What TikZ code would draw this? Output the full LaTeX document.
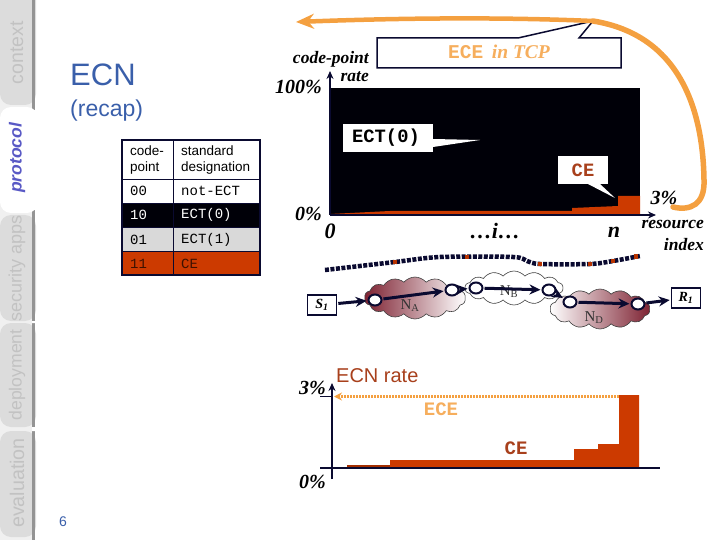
\documentclass[tikz,border=0pt]{standalone}
\usepackage{fontspec}
\setsansfont{Liberation Sans}
\setmonofont{Liberation Mono}
\newfontfamily\figfont{Liberation Serif}
\usetikzlibrary{positioning, arrows.meta, shapes.symbols, shapes.geometric}
\definecolor{navyline}{HTML}{0A0A30}
\definecolor{brickred}{HTML}{CC3A00}
\definecolor{brickdark}{HTML}{A8401C}
\definecolor{echoorange}{HTML}{F4A040}
\definecolor{titleblue}{HTML}{3A5FAA}
\definecolor{tabgray}{HTML}{DCDCDC}
\definecolor{maroon}{HTML}{7E2232}
\tikzset{
  figlabel/.style={font=\figfont\bfseries\itshape, text=black},
  tablabel/.style={text=black!24, rotate=90},
  celltext/.style={font=\sffamily\fontsize{13.5}{16}\selectfont, anchor=west, inner sep=0pt, align=left},
  cellmono/.style={font=\ttfamily\fontsize{14}{14}\selectfont, anchor=west, inner sep=0pt},
  callout/.style={draw=navyline, line width=1.5pt, fill=white},
  thinbubble/.style={fill=white},
  link/.style={-{Stealth[length=11pt,width=10pt]}, draw=navyline, line width=3pt, shorten >=1pt, shorten <=1pt},
  router/.style={ellipse, draw=navyline, fill=white, line width=2pt, inner sep=0pt, minimum width=13pt, minimum height=11pt},
  endbox/.style={draw=navyline, line width=1.6pt, fill=white, minimum width=29pt, minimum height=20pt, inner sep=0pt, font=\figfont\bfseries\itshape\fontsize{14}{14}\selectfont},
  netcloud/.style={cloud, cloud puffs=14, cloud puff arc=100, aspect=2.8, draw=black!75, line width=0.6pt, inner sep=0pt},
  netname/.style={font=\figfont\fontsize{15}{15}\selectfont, text=black!80},
  axis/.style={-{Stealth[length=8pt,width=7pt]}, draw=navyline, line width=2pt},
}
\begin{document}
\begin{tikzpicture}[x=1pt, y=-1pt]
    \useasboundingbox (0,0) rectangle (720,540);
    \fill[black!6] (0,0) rectangle (34,540);
    % side tabs
    \foreach \ytop/\ybot in {-20/105, 215/321, 323/427, 431/537} {
      \fill[tabgray, rounded corners=11pt] (36,\ytop) -- (0,\ytop) -- (0,\ybot) -- (36,\ybot) -- cycle;
    }
    \fill[black!42] (32,0) rectangle (35,540);
    \fill[white] (32,321) rectangle (37,323) (32,427) rectangle (37,431);
    \fill[white, rounded corners=11pt] (38,107) -- (0,107) -- (0,213) -- (38,213) -- cycle;
    \foreach \ypos/\name/\tabname/\fsize in {53/context/tabA/19.5, 268/security apps/tabB/18, 375/deployment/tabC/17.6, 483/evaluation/tabD/19.7} {
      \node[tablabel, font=\sffamily\fontsize{\fsize}{\fsize}\selectfont] (\tabname) at (17,\ypos) {\name};
    }
    \node[rotate=90, font=\sffamily\bfseries\itshape\fontsize{17.5}{17.5}\selectfont, text=black!35!blue!65!white] (tabP) at (17,158) {protocol};

    \node[anchor=west, inner sep=0pt, text=titleblue, font=\sffamily\fontsize{31}{31}\selectfont] (title) at (70,75) {ECN};
    \node[anchor=west, inner sep=0pt, text=titleblue, font=\sffamily\fontsize{23}{23}\selectfont] (recap) at (70,111) {(recap)};

    % code-point table
    \fill[white] (122,140) rectangle (260,203);
    \fill[black!97!blue] (122,203) rectangle (260,227);
    \fill[black!15] (122,227) rectangle (260,251);
    \fill[brickred] (122,251) rectangle (260,275);
    \draw[navyline, line width=0.7pt] (122,179) -- (260,179) (122,203) -- (260,203) (122,227) -- (260,227) (122,251) -- (260,251) (173,140) -- (173,275);
    \draw[navyline, line width=1.4pt] (122,140) rectangle (260,275);
    \node[celltext] (hcode) at (130,160) {code-\\point};
    \node[celltext] (hname) at (181,160) {standard\\designation};
    \foreach \ypos/\code/\desig/\col/\rowname in {191/00/not-ECT/black/rowA, 215/10/ECT(0)/white/rowB, 240/01/ECT(1)/black/rowC, 264/11/CE/black!70!brickred/rowD} {
      \node[cellmono, text=\col] (\rowname code) at (130,\ypos) {\code};
      \node[cellmono, text=\col] (\rowname name) at (181,\ypos) {\desig};
    }

    % upper chart
    \fill[black!97!blue] (330,88) rectangle (640,215);
    \fill[brickred] (330,214) -- (390,211) -- (572,211) -- (572,208) -- (618,206) -- (618,196) -- (640,196) -- (640,215) -- cycle;
    \coordinate (origin) at (330,215);
    \coordinate (ytip) at (330,71);
    \coordinate (xtip) at (656,215);
    \draw[axis] (origin) -- (ytip);
    \draw[axis] (origin) -- (xtip);
    \node[figlabel, font=\figfont\bfseries\itshape\fontsize{17.5}{17.5}\selectfont, anchor=east, inner sep=0pt] (cplabel) at (369,59) {code-point};
    \node[figlabel, font=\figfont\bfseries\itshape\fontsize{17.5}{17.5}\selectfont, anchor=east, inner sep=0pt] (ratelabel) at (369,77) {rate};
    \node[figlabel, font=\figfont\bfseries\itshape\fontsize{20}{20}\selectfont, anchor=east, inner sep=0pt] (top) at (322,87) {100\%};
    \node[figlabel, font=\figfont\bfseries\itshape\fontsize{20}{20}\selectfont, anchor=east, inner sep=0pt] (bot) at (322,214) {0\%};
    \node[figlabel, font=\figfont\bfseries\itshape\fontsize{22}{22}\selectfont] (zero) at (330,231) {0};
    \node[figlabel, font=\figfont\bfseries\itshape\fontsize{22}{22}\selectfont] (midi) at (495,231) {…i…};
    \node[figlabel, font=\figfont\bfseries\itshape\fontsize{22}{22}\selectfont] (last) at (614,232) {n};
    \node[figlabel, font=\figfont\bfseries\itshape\fontsize{20}{20}\selectfont] (three) at (664,198) {3\%};
    \node[figlabel, font=\figfont\bfseries\itshape\fontsize{17.5}{17.5}\selectfont, anchor=east, inner sep=0pt] (reslabel) at (704,224) {resource};
    \node[figlabel, font=\figfont\bfseries\itshape\fontsize{17.5}{17.5}\selectfont, anchor=east, inner sep=0pt] (idxlabel) at (704,245) {index};

    % bubbles
    \filldraw[callout] (377,38) -- (518,38) -- (593,21) -- (579,38) -- (621,38) -- (621,68) -- (377,68) -- cycle;
    \node[text=echoorange!85!white, font=\fontsize{19.5}{19.5}\selectfont] (ecetcp) at (499,52) {\ttfamily\bfseries ECE\hspace{-3pt} \figfont\bfseries\itshape in TCP};
    \fill[thinbubble] (343,124) rectangle (433,152);
    \fill[thinbubble] (433,139) -- (480,140) -- (433,147) -- cycle;
    \node[font=\ttfamily\bfseries\fontsize{18.8}{18.8}\selectfont] (ectzero) at (386,138) {ECT(0)};
    \fill[thinbubble] (558,156) rectangle (608,184);
    \fill[thinbubble] (588,184) -- (615,198) -- (600,184) -- cycle;
    \node[text=brickdark, font=\ttfamily\bfseries\fontsize{18.8}{18.8}\selectfont] (cebubble) at (583,170) {CE};

    % feedback curve
    \coordinate (loopstart) at (673,207);
    \coordinate (loopmid) at (593,21);
    \coordinate (looptip) at (296,22);
    \draw[echoorange, line width=5.5pt, line cap=round] (loopstart) .. controls (690,211) and (705,205) .. (704,180) .. controls (703,110) and (680,35) .. (loopmid);
    \draw[-{Stealth[length=18pt,width=15pt]}, echoorange, line width=4.5pt] (loopmid) .. controls (500,17) and (400,18) .. (looptip);

    % packet train
    \draw[navyline, line width=4.5pt, dash pattern=on 4pt off 1.5pt] plot[smooth, tension=0.5] coordinates {(325,270) (395,262) (440,257) (513,257) (527,261) (540,264) (590,264) (613,261) (640,256)};
    \foreach \xpos/\ypos in {395/262, 467/257, 540/264, 590/264, 613/261, 636/256.5} {
      \fill[brickred!90!black] (\xpos-2,\ypos-2.3) rectangle (\xpos+2,\ypos+2.3);
    }

    % network path
    \node[netcloud, minimum width=101pt, minimum height=42pt, left color=maroon, right color=white] (cloudA) at (415,298) {};
    \node[netcloud, minimum width=98pt, minimum height=34pt, fill=white] (cloudB) at (514,288) {};
    \node[netcloud, minimum width=100pt, minimum height=40pt, left color=white, right color=maroon] (cloudD) at (600,309) {};
    \node[netname] (nameA) at (410,306) {N\textsubscript{A}};
    \node[netname] (nameB) at (509,292) {N\textsubscript{B}};
    \node[netname] (nameD) at (594,318) {N\textsubscript{D}};
    \node[endbox] (S1) at (322,305) {S\textsubscript{1}};
    \node[endbox] (R1) at (686,298) {R\textsubscript{1}};
    \foreach \xpos/\ypos/\name in {375/300/rA, 452/290/rB, 476/288/rC, 549/290/rD, 570/302/rE, 638/304/rF} {
      \node[router] (\name) at (\xpos,\ypos) {};
    }
    \draw[link] (S1) -- (rA);
    \draw[link] (rA) -- (rB);
    \draw[link] (rB) -- (rC);
    \draw[link] (rC) -- (rD);
    \draw[link] (rD) -- (rE);
    \draw[link] (rE) -- (rF);
    \draw[link] (rF) -- (R1);

    % lower chart
    \fill[brickred!80!black] (347,468) -- (347,465) -- (390,465) -- (390,468) -- cycle;
    \fill[brickred] (390,468) -- (390,460) -- (574,460) -- (574,449) -- (598,449) -- (598,444) -- (619,444) -- (619,395) -- (639,395) -- (639,468) -- cycle;
    \coordinate (lowleft) at (320,468);
    \coordinate (lowright) at (660,468);
    \coordinate (lowbase) at (332,479);
    \coordinate (lowtip) at (332,383);
    \coordinate (ticktop) at (320,396);
    \coordinate (tickend) at (332,396);
    \coordinate (ecefrom) at (619,396.5);
    \coordinate (eceto) at (334,396.5);
    \draw[navyline, line width=2pt] (lowleft) -- (lowright);
    \draw[axis] (lowbase) -- (lowtip);
    \draw[navyline, line width=1pt] (ticktop) -- (tickend);
    \draw[-{Stealth[length=8pt,width=8pt]}, echoorange, line width=2.4pt, dash pattern=on 1.6pt off 1.4pt] (ecefrom) -- (eceto);
    \node[figlabel, font=\figfont\bfseries\itshape\fontsize{20}{20}\selectfont, anchor=east, inner sep=0pt] (lowthree) at (326,388) {3\%};
    \node[figlabel, font=\figfont\bfseries\itshape\fontsize{20}{20}\selectfont, anchor=east, inner sep=0pt] (lowzero) at (326,482) {0\%};
    \node[text=brickdark, font=\sffamily\fontsize{20}{20}\selectfont, anchor=west, inner sep=0pt] (ecnrate) at (336,376) {ECN rate};
    \node[text=echoorange!85!white, font=\ttfamily\bfseries\fontsize{19}{19}\selectfont] (ecelabel) at (441,409) {ECE};
    \node[text=brickdark, font=\ttfamily\bfseries\fontsize{19}{19}\selectfont] (celabel) at (516,448) {CE};
    \node[text=titleblue, font=\sffamily\fontsize{14}{14}\selectfont] (pagenum) at (63,522) {6};
\end{tikzpicture}
\end{document}
